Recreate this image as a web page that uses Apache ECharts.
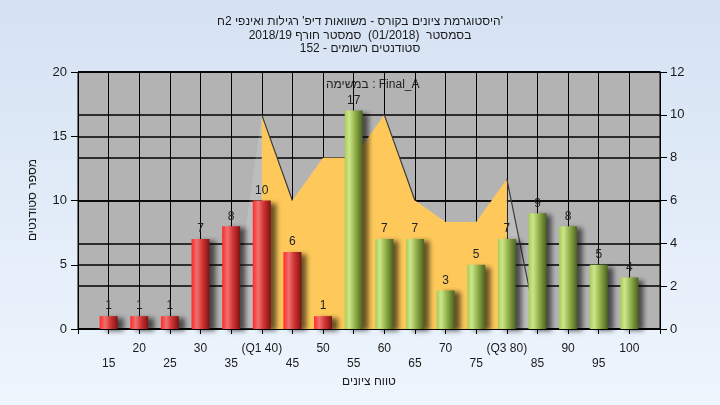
<!DOCTYPE html>
<html><head><meta charset="utf-8">
<script src="https://cdn.jsdelivr.net/npm/echarts@6/dist/echarts.min.js"></script>
<style>html,body{margin:0;padding:0;}#c{width:720px;height:405px;background:linear-gradient(#d5e2f3,#eef5fd);}</style>
</head><body><div id="c"></div>
<script>
// ---- data ----
const titleLines = ["'היסטוגרמת ציונים בקורס - משוואות דיפ' רגילות ואינפי 2ח", "בסמסטר  (01/2018)  סמסטר חורף 2018/19", "סטודנטים רשומים - 152"];
const legendText = "במשימה : Final_A";
const xName = "טווח ציונים";
const yName = "מספר סטודנטים";
const categories = [15,20,25,30,35,40,45,50,55,60,65,70,75,80,85,90,95,100];
const counts = [1,1,1,7,8,10,6,1,17,7,7,3,5,7,9,8,5,4];
const passGrade = 55;
const q1 = 40, q3 = 80;
const curveX = [35,40,45,50,55,60,65,70,75,80,85];
const curveValues = [0,10,6,8,8,10,6,5,5,7,0];
const specialTickLabels = {40: '(Q1 40)', 80: '(Q3 80)'};

// right-to-left line: keep a leading neutral mark on the right side
const rtl = s => '\u200F' + s;

const font = "'Liberation Sans', Arial, sans-serif";
const redGrad = {type:'linear',x:0,y:0,x2:1,y2:0,colorStops:[
  {offset:0,color:'#ff2a2a'},{offset:0.3,color:'#f07070'},{offset:0.6,color:'#d23434'},{offset:1,color:'#7e1212'}]};
const greenGrad = {type:'linear',x:0,y:0,x2:1,y2:0,colorStops:[
  {offset:0,color:'#a8cc58'},{offset:0.25,color:'#cce68a'},{offset:0.6,color:'#8eac46'},{offset:1,color:'#4c6220'}]};

const barData = categories.map((c,i)=>({value:[c,counts[i]], itemStyle:{color: c < passGrade ? redGrad : greenGrad}}));
const allCurve = curveX.map((x,i)=>[x,curveValues[i]]);
const midCurve = allCurve.filter(p=>p[0]>=q1 && p[0]<=q3);
// descending edges drawn with a dark line
const edgeData = [];
for (let i=0;i<allCurve.length-1;i++){
  const a=allCurve[i], b=allCurve[i+1];
  if (b[1] < a[1] && (a[0]===q1 || a[0]===60 || a[0]===q3)) { edgeData.push(a,b,[ (a[0]+b[0])/2+1, '-']); }
}

const chart = echarts.init(document.getElementById('c'), null, {renderer:'canvas'});
chart.setOption({
  animation:false,
  textStyle:{fontFamily:font},
  title:{text:[rtl(titleLines[0]), titleLines[1], titleLines[2]].join('\n'), left:'center', top:10,
    textStyle:{fontSize:12, fontWeight:'normal', color:'#1a1a1a', lineHeight:13.5, fontFamily:font}},
  graphic:[
    {type:'text', left:326, top:79, style:{text:legendText, fill:'#222', font:'12px '+font}},
    {type:'text', x:33, y:200, rotation:Math.PI/2,
      style:{text:yName, fill:'#1a1a1a', font:'12px '+font, textAlign:'center', textVerticalAlign:'middle'}}
  ],
  grid:{left:78, right:60, top:72, bottom:76, show:true, backgroundColor:'#b3b3b3', borderColor:'#000', borderWidth:1},
  xAxis:{type:'value', min:10, max:105, interval:5,
    name:xName, nameLocation:'middle', nameGap:46, nameTextStyle:{fontSize:12, color:'#1a1a1a'},
    axisLine:{lineStyle:{color:'#000'}}, axisTick:{length:5, lineStyle:{color:'#000'}},
    splitLine:{lineStyle:{color:'#000', width:1}},
    axisLabel:{margin:12, fontSize:12, color:'#1a1a1a', lineHeight:15,
      formatter:v=>{ if (v<=10 || v>=105) return ''; const t = specialTickLabels[v] || String(v); return (v % 10 === 0) ? t : '\n'+t; }}},
  yAxis:[
    {type:'value', min:0, max:20, interval:5, position:'left',
      axisLine:{show:true, lineStyle:{color:'#000'}}, axisTick:{show:true, length:7, lineStyle:{color:'#000'}},
      axisLabel:{margin:11, fontSize:13, color:'#1a1a1a'},
      splitLine:{lineStyle:{color:'#000', width:1.5}}},
    {type:'value', min:0, max:12, interval:2, position:'right',
      axisLine:{show:true, lineStyle:{color:'#000'}}, axisTick:{show:true, length:7, lineStyle:{color:'#000'}},
      axisLabel:{margin:10, fontSize:13, color:'#1a1a1a'},
      splitLine:{show:true, lineStyle:{color:'#000', width:1.5}}}
  ],
  series:[
    {type:'line', yAxisIndex:1, data:allCurve, symbol:'none', z:1, lineStyle:{width:0},
      areaStyle:{color:'rgba(255,255,255,0.14)', opacity:1}},
    {type:'line', yAxisIndex:1, data:midCurve, symbol:'none', z:2, lineStyle:{width:0},
      areaStyle:{color:'#fec95a', opacity:1}},
    {type:'line', yAxisIndex:1, data:edgeData, symbol:'none', z:3, connectNulls:false,
      lineStyle:{color:'#3a3a3a', width:1.2}},
    {type:'bar', yAxisIndex:0, data:barData, barWidth:18, z:5,
      itemStyle:{shadowColor:'rgba(0,0,0,0.6)', shadowBlur:5, shadowOffsetX:6, shadowOffsetY:2},
      label:{show:true, position:'top', distance:4, fontSize:12, color:'#222', formatter:p=>p.value[1]}}
  ]
});
</script></body></html>
